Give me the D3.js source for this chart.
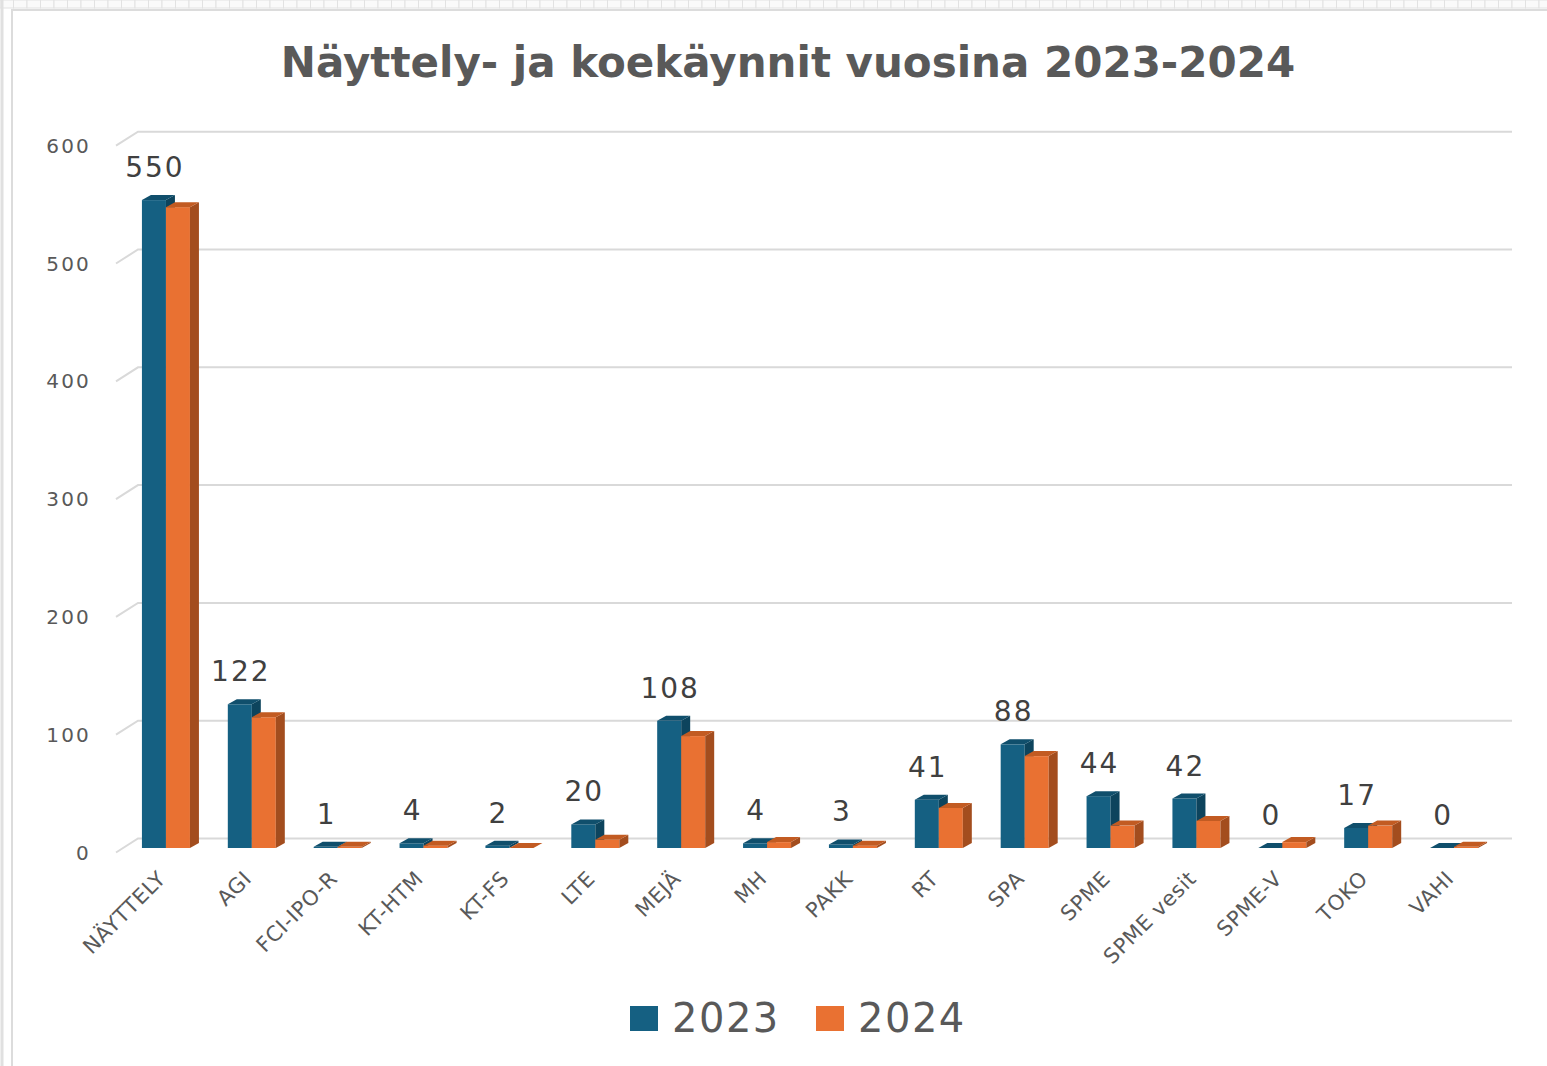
<!DOCTYPE html>
<html>
<head>
<meta charset="utf-8">
<script src="https://cdn.jsdelivr.net/npm/d3@7"></script>
<style>
  body { margin: 0; background: #fff; }
  svg { display: block; }
</style>
</head>
<body>
<svg id="chart" width="1547" height="1066"></svg>
<script>
// chart data
const categories = ["NÄYTTELY", "AGI", "FCI-IPO-R", "KT-HTM", "KT-FS", "LTE", "MEJÄ", "MH",
  "PAKK", "RT", "SPA", "SPME", "SPME vesit", "SPME-V", "TOKO", "VAHI"];
const values2023 = [550, 122, 1, 4, 2, 20, 108, 4, 3, 41, 88, 44, 42, 0, 17, 0];
const values2024 = [544, 111, 1, 2, 0, 7, 95, 5, 2, 34, 78, 19, 23, 5, 19, 1];
const seriesNames = ["2023", "2024"];
const yTicks = [0, 100, 200, 300, 400, 500, 600];
const title = "Näyttely- ja koekäynnit vuosina 2023-2024";

const colors = {
  "2023": { front: "#156082", side: "#0d445d", top: "#104f6c" },
  "2024": { front: "#e97132", side: "#a34d1e", top: "#c25b22" }
};

const svg = d3.select("#chart");
const textColor = "#595959";

// frame decorations
const ruler = svg.append("g");
ruler.selectAll("rect")
  .data(d3.range(0, 1547, 13.5))
  .join("rect")
  .attr("x", d => d)
  .attr("y", 0)
  .attr("width", 13.5)
  .attr("height", 8)
  .attr("fill", "#fafafa")
  .attr("stroke", "#e2e2e2")
  .attr("stroke-width", 1);
svg.append("line").attr("x1", 2).attr("x2", 2).attr("y1", 0).attr("y2", 1066)
  .attr("stroke", "#e0e0e0").attr("stroke-width", 3);
svg.append("rect")
  .attr("x", 12).attr("y", 10).attr("width", 1600).attr("height", 1100)
  .attr("fill", "#fff").attr("stroke", "#dcdcdc").attr("stroke-width", 2);

// title
svg.append("text")
  .attr("x", 788)
  .attr("y", 77)
  .attr("text-anchor", "middle")
  .attr("font-family", "DejaVu Sans, sans-serif")
  .attr("font-weight", "bold")
  .attr("font-size", 42)
  .attr("fill", textColor)
  .text(title);

// 3D geometry: back wall, front plane offset, bar depth
const wall = { dx: 22, dy: 14 };
const barOff = { dx: 15, dy: 9.5 };
const barDepth = { dx: 9, dy: -5 };

const yBack = d3.scaleLinear().domain([0, 600]).range([838.5, 131.7]);
const backLeft = 138, backRight = 1512;

const x = d3.scaleBand()
  .domain(categories)
  .range([backLeft - barOff.dx, backRight - barOff.dx])
  .paddingInner(0.441)
  .paddingOuter(0.2205);
const xs = d3.scaleBand().domain(seriesNames).range([0, x.bandwidth()]);

// gridlines
const grid = svg.append("g").attr("stroke", "#d9d9d9").attr("stroke-width", 2).attr("fill", "none");
grid.selectAll("path")
  .data(yTicks)
  .join("path")
  .attr("d", d => `M${backLeft - wall.dx},${yBack(d) + wall.dy}L${backLeft},${yBack(d)}L${backRight},${yBack(d)}`);

// y tick labels
svg.append("g")
  .selectAll("text")
  .data(yTicks)
  .join("text")
  .attr("x", 91)
  .attr("y", d => yBack(d) + wall.dy + 7)
  .attr("text-anchor", "end")
  .attr("font-family", "DejaVu Sans, sans-serif")
  .attr("font-size", 20)
  .attr("letter-spacing", 2.2)
  .attr("fill", textColor)
  .text(d => d);

// bars
const rows = categories.map((c, i) => ({ cat: c, "2023": values2023[i], "2024": values2024[i] }));
const yFront = v => yBack(v) + barOff.dy;

const groups = svg.append("g")
  .selectAll("g")
  .data(rows)
  .join("g")
  .attr("transform", d => `translate(${x(d.cat)},0)`);

seriesNames.forEach(s => {
  const g = groups.append("g");
  const w = xs.bandwidth();
  const x0 = xs(s);
  g.append("rect")
    .attr("x", x0)
    .attr("y", d => yFront(d[s]))
    .attr("width", w)
    .attr("height", d => yFront(0) - yFront(d[s]))
    .attr("fill", colors[s].front);
  g.append("path")
    .attr("fill", colors[s].side)
    .attr("d", d => {
      const yt = yFront(d[s]), yb = yFront(0);
      return `M${x0 + w},${yt}L${x0 + w + barDepth.dx},${yt + barDepth.dy}L${x0 + w + barDepth.dx},${yb + barDepth.dy}L${x0 + w},${yb}Z`;
    });
  g.append("path")
    .attr("fill", colors[s].top)
    .attr("d", d => {
      const yt = yFront(d[s]);
      return `M${x0},${yt}L${x0 + w},${yt}L${x0 + w + barDepth.dx},${yt + barDepth.dy}L${x0 + barDepth.dx},${yt + barDepth.dy}Z`;
    });
});

// data labels for 2023
groups.append("text")
  .attr("x", xs("2023") + xs.bandwidth() / 2 + 1)
  .attr("y", d => yFront(d["2023"]) - 23)
  .attr("text-anchor", "middle")
  .attr("font-family", "DejaVu Sans, sans-serif")
  .attr("font-size", 28)
  .attr("letter-spacing", 2)
  .attr("fill", "#404040")
  .text(d => d["2023"]);

// category labels
groups.append("text")
  .attr("transform", `translate(${x.bandwidth() / 2 + 1},880) rotate(-45)`)
  .attr("text-anchor", "end")
  .attr("font-family", "DejaVu Sans, sans-serif")
  .attr("font-size", 21)
  .attr("letter-spacing", 0.6)
  .attr("fill", textColor)
  .text(d => d.cat);

// legend
const legend = svg.append("g")
  .selectAll("g")
  .data(seriesNames)
  .join("g")
  .attr("transform", (d, i) => `translate(${630 + i * 186},1006)`);
legend.append("rect")
  .attr("width", 28)
  .attr("height", 25)
  .attr("fill", d => colors[d].front);
legend.append("text")
  .attr("x", 42)
  .attr("y", 26)
  .attr("font-family", "DejaVu Sans, sans-serif")
  .attr("font-size", 40)
  .attr("letter-spacing", 1.5)
  .attr("fill", textColor)
  .text(d => d);
</script>
</body>
</html>
